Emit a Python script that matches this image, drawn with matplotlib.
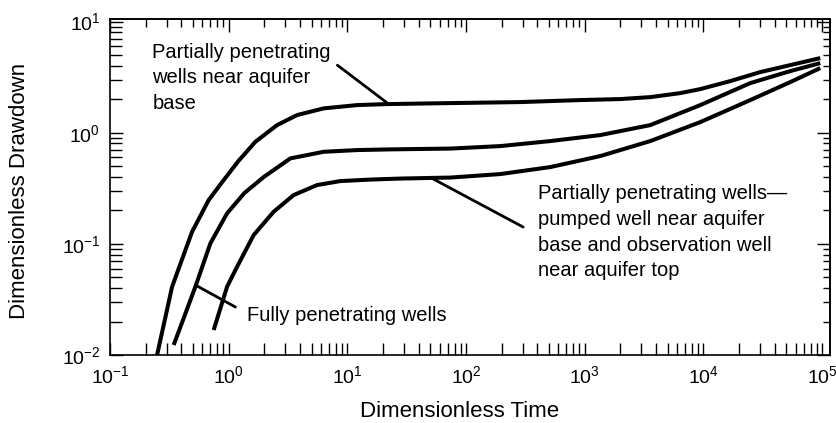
import matplotlib
matplotlib.use("Agg")
import matplotlib.pyplot as plt
from matplotlib.ticker import NullFormatter

plt.rcParams['font.family'] = ['Liberation Sans', 'DejaVu Sans']
plt.rcParams['mathtext.fontset'] = 'custom'
plt.rcParams['mathtext.rm'] = 'Liberation Sans'
plt.rcParams['mathtext.it'] = 'Liberation Sans'

# curves (dimensionless time, dimensionless drawdown)
t_near_base = [0.2493, 0.3336, 0.4917, 0.6785, 0.9078, 1.207, 1.679, 2.557, 3.769, 6.314,
               12.07, 21.6, 73.8, 286.7, 918, 1995, 3570, 6390, 9417, 16850, 30160, 53980, 96560]
s_near_base = [0.0100, 0.0411, 0.1285, 0.2477, 0.3747, 0.5553, 0.8284, 1.170, 1.440, 1.654,
               1.771, 1.808, 1.846, 1.885, 1.965, 2.006, 2.089, 2.270, 2.467, 2.911, 3.508, 4.055, 4.688]

t_fully = [0.344, 0.524, 0.701, 0.969, 1.356, 1.972, 3.310, 6.314, 12.07, 23.03, 73.8,
           194.5, 513.2, 1353, 3570, 9417, 24850, 53980, 96560]
s_fully = [0.0123, 0.0411, 0.1010, 0.188, 0.2862, 0.3988, 0.5872, 0.6733, 0.6974, 0.7076, 0.7194,
           0.7576, 0.8405, 0.9515, 1.170, 1.771, 2.793, 3.581, 4.226]

t_base_top = [0.7475, 0.969, 1.177, 1.624, 2.394, 3.528, 5.556, 8.730, 15.63, 27.96, 73.8,
              194.5, 513.2, 1353, 3570, 9417, 24850, 53980, 96560]
s_base_top = [0.01678, 0.0411, 0.0622, 0.120, 0.1944, 0.2747, 0.3379, 0.3670, 0.3786, 0.3866, 0.3947,
              0.4243, 0.4905, 0.6162, 0.8405, 1.245, 1.965, 2.851, 3.811]

x_ticks = [1e-1, 1e0, 1e1, 1e2, 1e3, 1e4, 1e5]
y_ticks = [1e-2, 1e-1, 1e0, 1e1]

fs = 14.5
label_fs = 16
tick_fs = 14

fig = plt.figure(figsize=(8.36, 4.23), dpi=100)
ax = fig.add_axes([110 / 836, 1 - 355 / 423, 720 / 836, 335.7 / 423])
ax.set_xscale('log')
ax.set_yscale('log')
ax.set_xticks(x_ticks)
ax.set_yticks(y_ticks)
ax.set_xlim(1e-1, 10 ** 5.067)
ax.set_ylim(1e-2, 10 ** 1.02)

for t, s in [(t_near_base, s_near_base), (t_fully, s_fully), (t_base_top, s_base_top)]:
    ax.plot(t, s, color='black', lw=2.9, solid_capstyle='butt', solid_joinstyle='round')

for sp in ax.spines.values():
    sp.set_linewidth(1.2)

ax.tick_params(which='major', direction='in', length=9, width=1, labelsize=tick_fs,
               top=False, right=False, pad=7)
ax.tick_params(which='minor', direction='in', length=8.5, width=1,
               top=False, right=False)

# top / right ticks are shorter
secx = ax.secondary_xaxis('top')
secy = ax.secondary_yaxis('right')
secx.set_xticks(x_ticks)
secy.set_yticks(y_ticks)
for sec, ax_ in [(secx, secx.xaxis), (secy, secy.yaxis)]:
    sec.tick_params(which='major', direction='in', length=9.4, width=1)
    sec.tick_params(which='minor', direction='in', length=5.4, width=1)
    ax_.set_major_formatter(NullFormatter())
    ax_.set_minor_formatter(NullFormatter())
    for sp in sec.spines.values():
        sp.set_linewidth(1.2)

ax.set_xlabel('Dimensionless Time', fontsize=label_fs)
ax.xaxis.set_label_coords(0.485, -0.137)
ax.set_ylabel('Dimensionless Drawdown', fontsize=label_fs)
ax.yaxis.set_label_coords(-0.1115, 0.49)

line_kw = dict(arrowstyle='-', lw=2.0, color='black', shrinkA=0, shrinkB=0)

ax.text(0.2276, 6.46, 'Partially penetrating\nwells near aquifer\nbase',
        fontsize=fs, ha='left', va='top', linespacing=1.45)
ax.annotate('', xy=(21.7, 1.85), xytext=(8.24, 4.05), arrowprops=line_kw)

ax.text(1.437, 0.0229, 'Fully penetrating wells', fontsize=fs, ha='left', va='center')
ax.annotate('', xy=(0.524, 0.0426), xytext=(1.14, 0.027), arrowprops=line_kw)

ax.text(406, 0.345, 'Partially penetrating wells\u2014\npumped well near aquifer\n'
        'base and observation well\nnear aquifer top',
        fontsize=fs, ha='left', va='top', linespacing=1.45)
ax.annotate('', xy=(53, 0.383), xytext=(303, 0.1416), arrowprops=line_kw)

fig.savefig('out.png', dpi=100)
